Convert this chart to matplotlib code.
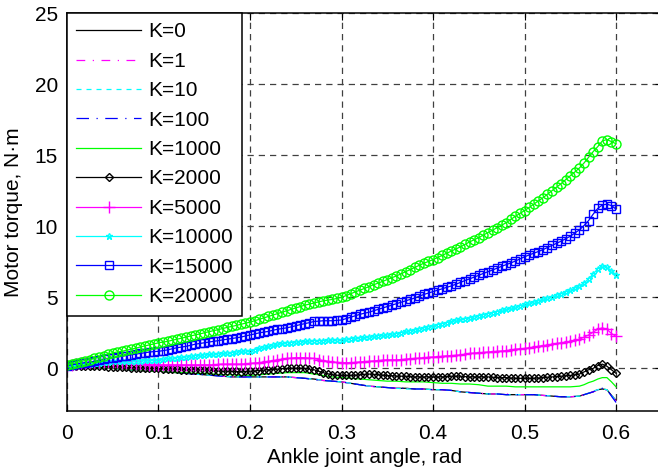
import matplotlib
matplotlib.use('Agg')
import matplotlib.pyplot as plt

plt.rcParams['font.family'] = ['Liberation Sans', 'DejaVu Sans']

# ankle joint angle samples (rad) for the low-stiffness curves
angle = [0.00, 0.01, 0.02, 0.03, 0.04, 0.05, 0.06, 0.07, 0.08, 0.09,
         0.10, 0.11, 0.12, 0.13, 0.14, 0.15, 0.16, 0.17, 0.18, 0.19,
         0.20, 0.21, 0.22, 0.23, 0.24, 0.25, 0.26, 0.27, 0.28, 0.29,
         0.30, 0.31, 0.32, 0.33, 0.34, 0.35, 0.36, 0.37, 0.38, 0.39,
         0.40, 0.41, 0.42, 0.43, 0.44, 0.45, 0.46, 0.47, 0.48, 0.49,
         0.50, 0.51, 0.52, 0.53, 0.54, 0.55, 0.56, 0.565, 0.57, 0.575,
         0.58, 0.585, 0.59, 0.595, 0.60]

# finer angle samples for the curves drawn with markers
angle_fine = [0.000, 0.005, 0.010, 0.015, 0.020, 0.025, 0.030, 0.035, 0.040, 0.045,
              0.050, 0.055, 0.060, 0.065, 0.070, 0.075, 0.080, 0.085, 0.090, 0.095,
              0.100, 0.105, 0.110, 0.115, 0.120, 0.125, 0.130, 0.135, 0.140, 0.145,
              0.150, 0.155, 0.160, 0.165, 0.170, 0.175, 0.180, 0.185, 0.190, 0.195,
              0.200, 0.205, 0.210, 0.215, 0.220, 0.225, 0.230, 0.235, 0.240, 0.245,
              0.250, 0.255, 0.260, 0.265, 0.270, 0.275, 0.280, 0.285, 0.290, 0.295,
              0.300, 0.305, 0.310, 0.315, 0.320, 0.325, 0.330, 0.335, 0.340, 0.345,
              0.350, 0.355, 0.360, 0.365, 0.370, 0.375, 0.380, 0.385, 0.390, 0.395,
              0.400, 0.405, 0.410, 0.415, 0.420, 0.425, 0.430, 0.435, 0.440, 0.445,
              0.450, 0.455, 0.460, 0.465, 0.470, 0.475, 0.480, 0.485, 0.490, 0.495,
              0.500, 0.505, 0.510, 0.515, 0.520, 0.525, 0.530, 0.535, 0.540, 0.545,
              0.550, 0.555, 0.560, 0.565, 0.570, 0.575, 0.580, 0.585, 0.590, 0.595,
              0.600]

# motor torque (N*m) for each stiffness K
k0 = [0.2, 0.15, 0.1, 0.05, 0.0, 0.0, -0.05, -0.1, -0.15, -0.2,
      -0.2, -0.25, -0.3, -0.35, -0.4, -0.45, -0.5, -0.55, -0.6, -0.6,
      -0.6, -0.6, -0.6, -0.6, -0.6, -0.65, -0.7, -0.75, -0.85, -0.9,
      -0.95, -1.05, -1.15, -1.25, -1.3, -1.35, -1.4, -1.4, -1.45, -1.45,
      -1.5, -1.5, -1.55, -1.65, -1.7, -1.75, -1.8, -1.8, -1.85, -1.85,
      -1.85, -1.85, -1.9, -1.95, -2.0, -2.0, -1.95, -1.85, -1.75, -1.65,
      -1.5, -1.45, -1.5, -1.9, -2.25]
k1 = [0.2, 0.15, 0.1, 0.05, 0.0, 0.0, -0.05, -0.1, -0.15, -0.2,
      -0.2, -0.25, -0.3, -0.35, -0.4, -0.45, -0.5, -0.55, -0.6, -0.6,
      -0.6, -0.6, -0.6, -0.6, -0.6, -0.65, -0.7, -0.75, -0.85, -0.9,
      -0.95, -1.05, -1.15, -1.25, -1.3, -1.35, -1.4, -1.4, -1.45, -1.45,
      -1.5, -1.5, -1.55, -1.6, -1.7, -1.75, -1.8, -1.8, -1.8, -1.85,
      -1.85, -1.85, -1.9, -1.95, -2.0, -2.0, -1.95, -1.85, -1.75, -1.65,
      -1.5, -1.45, -1.55, -1.95, -2.3]
k10 = [0.2, 0.15, 0.1, 0.05, 0.0, 0.0, -0.05, -0.1, -0.15, -0.2,
       -0.2, -0.25, -0.3, -0.35, -0.4, -0.45, -0.5, -0.55, -0.6, -0.6,
       -0.65, -0.6, -0.6, -0.6, -0.6, -0.65, -0.7, -0.75, -0.85, -0.9,
       -0.95, -1.05, -1.15, -1.25, -1.3, -1.35, -1.4, -1.45, -1.45, -1.45,
       -1.5, -1.5, -1.55, -1.65, -1.7, -1.75, -1.8, -1.8, -1.85, -1.85,
       -1.85, -1.85, -1.9, -1.95, -2.0, -2.0, -1.95, -1.85, -1.75, -1.6,
       -1.5, -1.45, -1.5, -1.9, -2.3]
k100 = [0.2, 0.15, 0.1, 0.05, 0.0, 0.0, -0.05, -0.1, -0.15, -0.2,
        -0.2, -0.25, -0.3, -0.35, -0.4, -0.45, -0.5, -0.55, -0.6, -0.6,
        -0.6, -0.6, -0.6, -0.6, -0.6, -0.65, -0.7, -0.8, -0.85, -0.9,
        -0.95, -1.05, -1.15, -1.25, -1.3, -1.35, -1.4, -1.4, -1.45, -1.45,
        -1.5, -1.5, -1.55, -1.65, -1.7, -1.75, -1.8, -1.8, -1.85, -1.85,
        -1.85, -1.85, -1.9, -1.95, -2.0, -2.0, -1.95, -1.85, -1.75, -1.65,
        -1.5, -1.4, -1.5, -1.95, -2.4]
k1000 = [0.2, 0.15, 0.1, 0.05, 0.0, 0.0, -0.05, -0.1, -0.15, -0.2,
         -0.2, -0.25, -0.3, -0.3, -0.35, -0.35, -0.4, -0.45, -0.45, -0.5,
         -0.5, -0.45, -0.4, -0.35, -0.3, -0.3, -0.3, -0.4, -0.5, -0.6,
         -0.65, -0.7, -0.75, -0.8, -0.85, -0.9, -0.9, -0.95, -0.95, -0.95,
         -1.0, -1.05, -1.05, -1.1, -1.1, -1.15, -1.25, -1.25, -1.25, -1.3,
         -1.3, -1.3, -1.3, -1.3, -1.3, -1.3, -1.25, -1.15, -1.0, -0.9,
         -0.75, -0.65, -0.65, -0.95, -1.3]

k2000 = [0.2, 0.2, 0.2, 0.2, 0.2, 0.2, 0.2, 0.18, 0.15, 0.12,
         0.1, 0.1, 0.1, 0.08, 0.05, 0.05, 0.05, 0.02, 0.0, 0.0,
         0.0, -0.02, -0.05, -0.05, -0.05, -0.08, -0.1, -0.1, -0.1, -0.1,
         -0.1, -0.12, -0.15, -0.18, -0.2, -0.2, -0.2, -0.22, -0.25, -0.22,
         -0.2, -0.18, -0.15, -0.12, -0.1, -0.08, -0.05, -0.02, 0.0, 0.0,
         0.0, 0.0, 0.0, -0.05, -0.1, -0.2, -0.3, -0.38, -0.45, -0.48,
         -0.5, -0.5, -0.5, -0.48, -0.45, -0.42, -0.4, -0.42, -0.45, -0.48,
         -0.5, -0.52, -0.55, -0.55, -0.55, -0.58, -0.6, -0.6, -0.6, -0.6,
         -0.6, -0.6, -0.6, -0.58, -0.55, -0.55, -0.55, -0.58, -0.6, -0.6,
         -0.6, -0.6, -0.6, -0.62, -0.65, -0.65, -0.65, -0.68, -0.7, -0.7,
         -0.7, -0.7, -0.7, -0.68, -0.65, -0.62, -0.6, -0.58, -0.55, -0.52,
         -0.5, -0.45, -0.4, -0.25, -0.1, 0.0, 0.2, 0.3, 0.15, -0.1,
         -0.35]
k5000 = [0.2, 0.25, 0.3, 0.35, 0.4, 0.42, 0.45, 0.45, 0.45, 0.45,
         0.45, 0.42, 0.4, 0.38, 0.35, 0.32, 0.3, 0.28, 0.25, 0.25,
         0.25, 0.25, 0.25, 0.25, 0.25, 0.25, 0.25, 0.25, 0.25, 0.25,
         0.25, 0.25, 0.25, 0.28, 0.3, 0.3, 0.3, 0.3, 0.3, 0.32,
         0.35, 0.38, 0.4, 0.45, 0.5, 0.55, 0.6, 0.65, 0.7, 0.72,
         0.75, 0.75, 0.75, 0.72, 0.7, 0.62, 0.55, 0.5, 0.45, 0.42,
         0.4, 0.4, 0.4, 0.42, 0.45, 0.48, 0.5, 0.52, 0.55, 0.58,
         0.6, 0.6, 0.6, 0.62, 0.65, 0.68, 0.7, 0.72, 0.75, 0.78,
         0.8, 0.82, 0.85, 0.88, 0.9, 0.92, 0.95, 1.0, 1.05, 1.08,
         1.1, 1.12, 1.15, 1.18, 1.2, 1.22, 1.25, 1.3, 1.35, 1.38,
         1.4, 1.45, 1.5, 1.55, 1.6, 1.65, 1.7, 1.75, 1.8, 1.85,
         1.9, 1.98, 2.05, 2.2, 2.35, 2.55, 2.75, 2.85, 2.75, 2.45,
         2.25]
k10000 = [0.2, 0.22, 0.25, 0.28, 0.3, 0.32, 0.35, 0.4, 0.45, 0.48,
          0.5, 0.5, 0.5, 0.52, 0.55, 0.55, 0.55, 0.58, 0.6, 0.6,
          0.6, 0.65, 0.7, 0.72, 0.75, 0.78, 0.8, 0.85, 0.9, 0.92,
          0.95, 0.98, 1.0, 1.02, 1.05, 1.08, 1.1, 1.15, 1.2, 1.22,
          1.25, 1.32, 1.4, 1.48, 1.55, 1.62, 1.7, 1.75, 1.8, 1.82,
          1.85, 1.88, 1.9, 1.92, 1.95, 1.95, 1.95, 1.98, 2.0, 2.0,
          2.0, 2.05, 2.1, 2.12, 2.15, 2.18, 2.2, 2.25, 2.3, 2.32,
          2.35, 2.4, 2.45, 2.52, 2.6, 2.65, 2.7, 2.78, 2.85, 2.92,
          3.0, 3.08, 3.15, 3.22, 3.3, 3.38, 3.45, 3.5, 3.55, 3.62,
          3.7, 3.78, 3.85, 3.92, 4.0, 4.08, 4.15, 4.22, 4.3, 4.4,
          4.5, 4.58, 4.65, 4.75, 4.85, 4.95, 5.05, 5.15, 5.25, 5.38,
          5.5, 5.65, 5.8, 6.0, 6.3, 6.65, 7.0, 7.2, 7.1, 6.85,
          6.6]
k15000 = [0.2, 0.25, 0.3, 0.35, 0.4, 0.45, 0.5, 0.58, 0.65, 0.7,
          0.75, 0.8, 0.85, 0.9, 0.95, 1.0, 1.05, 1.1, 1.15, 1.18,
          1.2, 1.25, 1.3, 1.38, 1.45, 1.5, 1.55, 1.62, 1.7, 1.75,
          1.8, 1.85, 1.9, 1.95, 2.0, 2.05, 2.1, 2.15, 2.2, 2.28,
          2.35, 2.42, 2.5, 2.55, 2.6, 2.68, 2.75, 2.8, 2.85, 2.92,
          3.0, 3.08, 3.15, 3.22, 3.3, 3.32, 3.35, 3.35, 3.35, 3.38,
          3.4, 3.5, 3.6, 3.7, 3.8, 3.88, 3.95, 4.05, 4.15, 4.25,
          4.35, 4.45, 4.55, 4.65, 4.75, 4.85, 4.95, 5.08, 5.2, 5.3,
          5.4, 5.5, 5.6, 5.7, 5.8, 5.92, 6.05, 6.18, 6.3, 6.42,
          6.55, 6.68, 6.8, 6.92, 7.05, 7.18, 7.3, 7.42, 7.55, 7.7,
          7.85, 7.98, 8.1, 8.22, 8.35, 8.5, 8.65, 8.8, 8.95, 9.12,
          9.3, 9.52, 9.75, 10.05, 10.4, 10.85, 11.25, 11.5, 11.55, 11.45,
          11.2]
k20000 = [0.25, 0.33, 0.4, 0.48, 0.55, 0.62, 0.7, 0.8, 0.9, 1.0,
          1.1, 1.15, 1.2, 1.28, 1.35, 1.42, 1.5, 1.58, 1.65, 1.72,
          1.8, 1.85, 1.9, 1.98, 2.05, 2.12, 2.2, 2.28, 2.35, 2.42,
          2.5, 2.58, 2.65, 2.72, 2.8, 2.88, 2.95, 3.02, 3.1, 3.18,
          3.25, 3.35, 3.45, 3.55, 3.65, 3.75, 3.85, 3.95, 4.05, 4.15,
          4.25, 4.35, 4.45, 4.52, 4.6, 4.68, 4.75, 4.8, 4.85, 4.92,
          5.0, 5.12, 5.25, 5.38, 5.5, 5.62, 5.75, 5.88, 6.0, 6.12,
          6.25, 6.38, 6.5, 6.65, 6.8, 6.95, 7.1, 7.25, 7.4, 7.52,
          7.65, 7.8, 7.95, 8.1, 8.25, 8.4, 8.55, 8.72, 8.9, 9.05,
          9.2, 9.38, 9.55, 9.72, 9.9, 10.08, 10.25, 10.48, 10.7, 10.9,
          11.1, 11.32, 11.55, 11.78, 12.0, 12.25, 12.5, 12.75, 13.0, 13.28,
          13.55, 13.82, 14.1, 14.45, 14.85, 15.25, 15.6, 16.0, 16.1, 15.95,
          15.8]

labels = ['K=0', 'K=1', 'K=10', 'K=100', 'K=1000',
          'K=2000', 'K=5000', 'K=10000', 'K=15000', 'K=20000']
series = [k0, k1, k10, k100, k1000, k2000, k5000, k10000, k15000, k20000]

MAG = '#ff00ff'
CYA = '#00ffff'
BLU = '#0000ff'
GRN = '#00ff00'

styles = [
    dict(color='k', linestyle='-'),
    dict(color=MAG, linestyle=(0, (7, 6, 1, 6))),
    dict(color=CYA, linestyle=(0, (4, 4))),
    dict(color=BLU, linestyle=(0, (10, 6, 1, 6))),
    dict(color=GRN, linestyle='-'),
    dict(color='k', linestyle='-', marker='D', markersize=4),
    dict(color=MAG, linestyle='-', marker='+', markersize=8),
    dict(color=CYA, linestyle='-', marker='*', markersize=4.5),
    dict(color=BLU, linestyle='-', marker='s', markersize=6),
    dict(color=GRN, linestyle='-', marker='o', markersize=6.5),
]

fig = plt.figure(figsize=(6.58, 4.70), dpi=100)
ax = fig.add_axes([0.1018, 0.1255, 0.904, 0.8468])

for y, lab, st in zip(series, labels, styles):
    x = angle if len(y) == len(angle) else angle_fine
    ax.plot(x, y, label=lab, linewidth=0.9, markerfacecolor='none',
            markeredgewidth=1.0, **st)

ax.set_xlim(0, 0.65)
ax.set_ylim(-3, 25)
ax.set_xticks([0, 0.1, 0.2, 0.3, 0.4, 0.5, 0.6])
ax.set_xticklabels(['0', '0.1', '0.2', '0.3', '0.4', '0.5', '0.6'])
ax.set_yticks([0, 5, 10, 15, 20, 25])
ax.tick_params(direction='in', labelsize=15, top=True, right=True, length=5)
ax.tick_params(axis='x', pad=9)
ax.tick_params(axis='y', pad=6.5)
ax.grid(True, linestyle=(0, (5, 4)), color='0.25', linewidth=0.9)
ax.set_axisbelow(True)
for s in ax.spines.values():
    s.set_linewidth(1.1)

ax.set_xlabel('Ankle joint angle, rad', fontsize=15, labelpad=4)
ax.set_ylabel('Motor torque, N\u00b7m', fontsize=15, labelpad=8)

leg = ax.legend(loc='upper left', bbox_to_anchor=(0, 1), borderaxespad=0,
                fontsize=15, handlelength=3.1, handletextpad=0.35,
                labelspacing=0.5, fancybox=False, edgecolor='k',
                framealpha=1, borderpad=0.45)
leg.get_frame().set_linewidth(1.1)

fig.savefig('out.png', dpi=100)
